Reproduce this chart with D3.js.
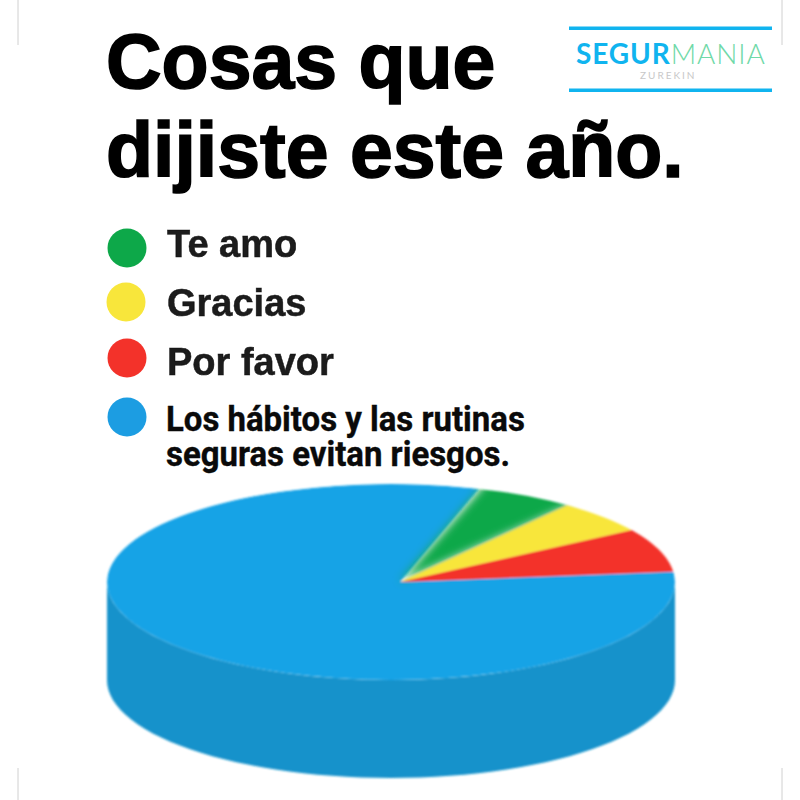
<!DOCTYPE html>
<html><head><meta charset="utf-8">
<style>html,body{margin:0;padding:0;background:#fff;overflow:hidden}svg{display:block}</style>
<script src="https://d3js.org/d3.v7.min.js"></script></head>
<body><svg id="c" width="800" height="800"></svg>
<script>
const categories=["Te amo","Gracias","Por favor","Los hábitos y las rutinas"];
const wrappedLabel=["Los hábitos y las rutinas","seguras evitan riesgos."];
const values=[20.5,19.5,26,294];
const colors=["#10a84a","#f8e63a","#f3332a","#18a3e6"];
const titleLines=["Cosas que","dijiste este año."];
const svg=d3.select("#c");
const defs=svg.append("defs");
defs.append("filter").attr("id","soft").append("feGaussianBlur").attr("stdDeviation",1.2);
defs.append("filter").attr("id","softT").append("feGaussianBlur").attr("stdDeviation",0.7);
const gb=defs.append("filter").attr("id","softG").attr("x","-30%").attr("width","160%").attr("y","-30%").attr("height","160%");
gb.append("feGaussianBlur").attr("stdDeviation",4);
const cx=391,cy=582,rx=284,ry=98,depth=98,apex=[400,582];
defs.append("clipPath").attr("id","top").append("ellipse").attr("cx",cx).attr("cy",cy).attr("rx",rx).attr("ry",ry);
svg.append("rect").attr("width",800).attr("height",800).attr("fill","#fff");
[[18,0,18,45],[782,0,782,45],[18,768,18,800],[782,768,782,800]].forEach(d=>
 svg.append("line").attr("x1",d[0]).attr("y1",d[1]).attr("x2",d[2]).attr("y2",d[3]).attr("stroke","#d0d0d0"));
svg.append("g").attr("filter","url(#softT)").selectAll("text").data(titleLines).join("text")
 .attr("x",106).attr("y",(d,i)=>[88,177][i])
 .attr("font-family","Liberation Sans").attr("font-weight",700).attr("font-size",77).attr("fill","#050505")
 .attr("stroke","#050505").attr("stroke-width",1.6)
 .text(d=>d);
const ly=[248,302,358,417];
const lg=svg.append("g");
lg.selectAll("circle").data(categories).join("circle")
 .attr("cx",(d,i)=>[127,126,127,127][i]).attr("cy",(d,i)=>ly[i]).attr("r",19.5)
 .attr("fill",(d,i)=>i==3?"#1d9de2":colors[i]).attr("filter","url(#softT)");
lg.selectAll("text.l").data(categories.slice(0,3)).join("text").attr("class","l")
 .attr("x",167).attr("y",(d,i)=>[257,316,375][i])
 .attr("font-family","Liberation Sans").attr("font-weight",700).attr("font-size",38).attr("fill","#1a1a1a")
 .attr("stroke","#1a1a1a").attr("stroke-width",0.5)
 .attr("filter","url(#softT)").text(d=>d);
wrappedLabel.forEach((t,i)=>{
 svg.append("text").attr("transform",`translate(166,${[431,466][i]}) scale(0.915,1)`)
 .attr("font-family","Roboto").attr("font-weight",700).attr("font-size",36).attr("fill","#0a0a0a")
 .attr("stroke","#0a0a0a").attr("stroke-width",0.4).text(t);
});
const pie=d3.pie().sort(null).startAngle(18*Math.PI/180).endAngle(378*Math.PI/180)(values);
const g=svg.append("g").attr("filter","url(#soft)");
const edge=d3.range(0,181,3).map(a=>{const t=a*Math.PI/180;return [cx+rx*Math.cos(t),cy+ry*Math.sin(t)]});
const side=edge.concat(edge.slice().reverse().map(d=>[d[0],d[1]+depth]));
g.append("path").attr("d",d3.line()(side)+"Z").attr("fill","#1392cb");
const wedge=(s,k=1)=>{
 const n=Math.max(2,Math.ceil((s.endAngle-s.startAngle)/0.03));
 const pts=d3.range(n+1).map(i=>{const a=s.startAngle+(s.endAngle-s.startAngle)*i/n;
  return [cx+k*rx*Math.sin(a),cy-k*ry*Math.cos(a)]});
 return d3.line()([apex,...pts])+"Z";
};
const order=[3,0,1,2];
const slices=g.append("g").attr("clip-path","url(#top)");
order.forEach(i=>{
 const w=slices.append("path").datum(pie[i]).attr("fill",colors[i]);
 if(i===0) w.attr("d",wedge(pie[i],1.25)).attr("filter","url(#softG)");
 else w.attr("d",wedge(pie[i]));
});
const logo=svg.append("g");
[28,90].forEach(y=>logo.append("rect").attr("x",569).attr("y",y-1.5).attr("width",203).attr("height",3.5).attr("fill","#10b4ef"));
const t=logo.append("text").attr("x",576).attr("y",63.5).attr("font-family","Lato").attr("font-size",28);
t.append("tspan").attr("font-weight",700).attr("fill","#10b4ef").attr("letter-spacing",0.9).text("SEGUR");
t.append("tspan").attr("font-weight",300).attr("fill","#6fd9a8").attr("letter-spacing",0.9).text("MANIA");
logo.append("text").attr("x",640).attr("y",79).attr("font-family","Lato").attr("font-size",10).attr("letter-spacing",2).attr("fill","#c8c8c8").text("ZUREKIN");
</script></body></html>
